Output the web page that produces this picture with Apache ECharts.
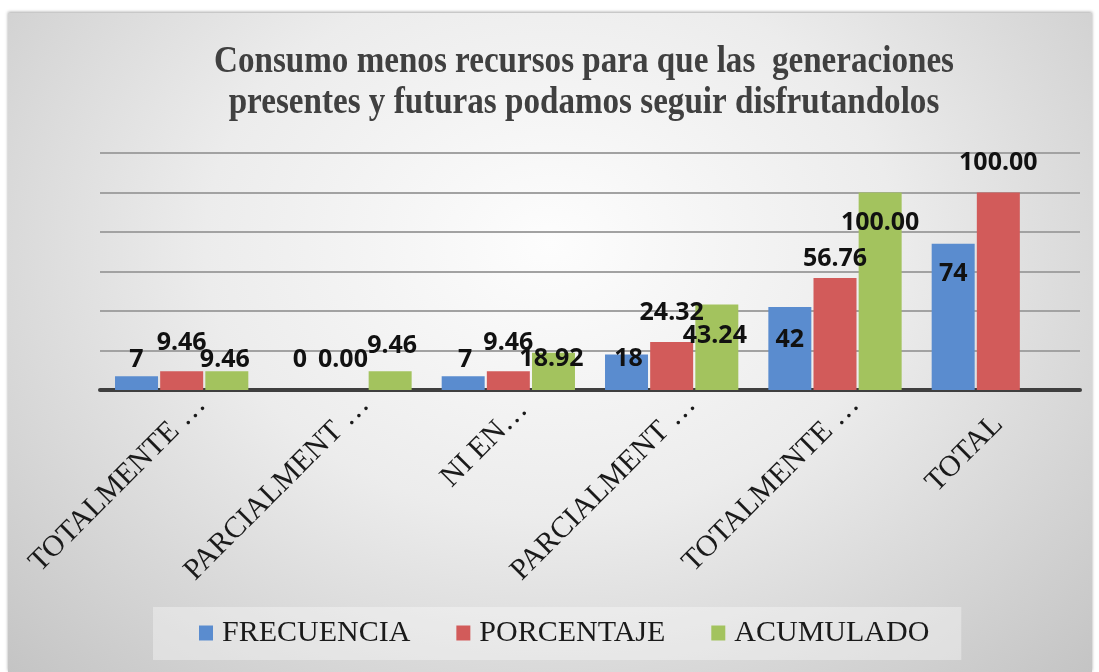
<!DOCTYPE html>
<html>
<head>
<meta charset="utf-8">
<title>Consumo menos recursos</title>
<script src="https://cdn.jsdelivr.net/npm/echarts@6.0.0/dist/echarts.min.js"></script>
<style>
    html, body { margin: 0; padding: 0; background: #fff; }
    #bg {
        position: absolute; left: 8px; top: 13px; width: 1084px; height: 659px;
        background: radial-gradient(ellipse at 50% 35%, #fdfdfd 0%, #ececec 45%, #c4c4c4 100%);
        box-shadow: 0 -1px 3px rgba(0,0,0,0.35);
    }
    #main { position: absolute; left: 0; top: 0; width: 1099px; height: 672px; }
</style>
</head>
<body>
<div id="bg"></div>
<div id="main"></div>
<script>
    // categorias (eje x) y series
    const categories = ['TOTALMENTE …', 'PARCIALMENT …', 'NI EN…', 'PARCIALMENT …', 'TOTALMENTE …', 'TOTAL'];
    const frecuencia = [7, 0, 7, 18, 42, 74];
    const porcentaje = [9.46, 0.00, 9.46, 24.32, 56.76, 100.00];
    const acumulado  = [9.46, 9.46, 18.92, 43.24, 100.00, null];
    const seriesNames = ['FRECUENCIA', 'PORCENTAJE', 'ACUMULADO'];

    // desplazamiento manual de etiquetas (como en la hoja original)
    const shiftFrec = [[0, 1], [0, -13], [2, 1], [2, 22], [0, 50], [0, 48]];
    const shiftPorc = [[0, -11], [-2, -13], [0, -11], [0, -12], [0, -2], [0, -12]];
    const shiftAcum = [[-2, 6], [2, -8], [-2, 24], [-2, 49], [0, 48], [0, 0]];

    const colors = ['#5a8ccf', '#d25b5a', '#a3c35e'];

    const labelStyle = {
        show: true,
        position: 'top',
        color: '#111',
        fontFamily: '"Noto Sans", sans-serif',
        fontWeight: 'bold',
        fontSize: 25
    };

    function withShift(values, shifts, digits) {
        return values.map((v, i) => {
            if (v === null) return '-';
            return {
                value: v,
                label: Object.assign({}, labelStyle, {
                    offset: shifts[i],
                    formatter: () => v.toFixed(digits)
                })
            };
        });
    }

    const serif = '"Liberation Serif", "Times New Roman", serif';

    const chart = echarts.init(document.getElementById('main'));
    chart.setOption({
        backgroundColor: 'transparent',
        animation: false,
        color: colors,
        graphic: [{
            type: 'text',
            x: 584,
            y: 82,
            scaleX: 0.92,
            scaleY: 1.08,
            style: {
                text: 'Consumo menos recursos para que las  generaciones\npresentes y futuras podamos seguir disfrutandolos',
                font: 'bold 36px ' + serif,
                fill: '#404040',
                align: 'center',
                verticalAlign: 'middle',
                lineHeight: 38
            }
        }],
        legend: {
            data: seriesNames,
            left: 153,
            top: 607,
            padding: [11, 32, 12, 46],
            backgroundColor: 'rgba(255,255,255,0.35)',
            icon: 'rect',
            itemWidth: 14,
            itemHeight: 15,
            itemGap: 46,
            textStyle: {
                fontFamily: serif,
                fontSize: 30,
                color: '#1a1a1a',
                padding: [0, 0, 0, 4]
            }
        },
        grid: {
            left: 100,
            right: 19,
            top: 153,
            bottom: 282,
            outerBoundsMode: 'none'
        },
        xAxis: {
            type: 'category',
            data: categories,
            axisTick: { show: false },
            axisLine: { lineStyle: { color: '#3f3f3f', width: 4 } },
            axisLabel: {
                interval: 0,
                rotate: 45,
                margin: 30,
                color: '#1a1a1a',
                fontFamily: serif,
                fontSize: 30,
                formatter: (v) => {
                    if (v.endsWith(' …')) return '{s|' + v + '}';
                    if (v.endsWith('…')) return '{n|' + v + '}';
                    return '{t|' + v + '}';
                },
                rich: {
                    s: { fontFamily: serif, fontSize: 30, color: '#1a1a1a', padding: [0, -28, 0, 0] },
                    n: { fontFamily: serif, fontSize: 30, color: '#1a1a1a', padding: [0, -21, 0, 0] },
                    t: { fontFamily: serif, fontSize: 30, color: '#1a1a1a' }
                }
            }
        },
        yAxis: {
            type: 'value',
            min: 0,
            max: 120,
            interval: 20,
            axisLabel: { show: false },
            axisLine: { show: false },
            axisTick: { show: false },
            splitLine: { lineStyle: { color: '#a2a2a2', width: 2 } }
        },
        series: [
            {
                name: seriesNames[0],
                type: 'bar',
                barWidth: 43,
                barGap: '5%',
                data: withShift(frecuencia, shiftFrec, 0)
            },
            {
                name: seriesNames[1],
                type: 'bar',
                barWidth: 43,
                barGap: '5%',
                data: withShift(porcentaje, shiftPorc, 2)
            },
            {
                name: seriesNames[2],
                type: 'bar',
                barWidth: 43,
                barGap: '5%',
                data: withShift(acumulado, shiftAcum, 2)
            }
        ]
    });
</script>
</body>
</html>
